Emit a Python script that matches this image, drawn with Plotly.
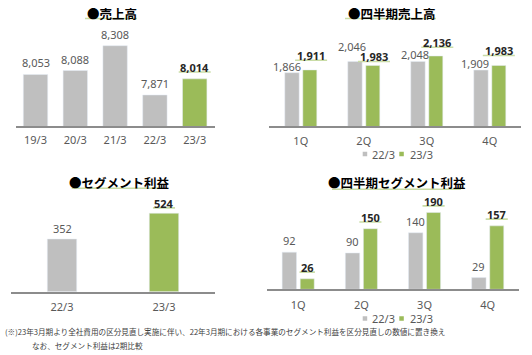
import plotly.graph_objects as go

W, H = 532, 355

# ---------------- data ----------------
years = ["19/3", "20/3", "21/3", "22/3", "23/3"]
sales = [8053, 8088, 8308, 7871, 8014]

quarters = ["1Q", "2Q", "3Q", "4Q"]
series = ["22/3", "23/3"]
q_sales_22 = [1866, 2046, 2048, 1909]
q_sales_23 = [1911, 1983, 2136, 1983]

seg_years = ["22/3", "23/3"]
seg_profit = [352, 524]

q_seg_22 = [92, 90, 140, 29]
q_seg_23 = [26, 150, 190, 157]

titles = ["●売上高", "●四半期売上高", "●セグメント利益", "●四半期セグメント利益"]
note1 = "(※)23年3月期より全社費用の区分見直し実施に伴い、22年3月期における各事業のセグメント利益を区分見直しの数値に置き換え"
note2 = "なお、セグメント利益は2期比較"

# ---------------- style ----------------
GRAY = "#BFBFBF"
GREEN = "#9BBB59"
TXT = "#595959"
DARK = "#262626"
ULINE = "#C9DCA6"
AXIS = "#8C8C8C"
NUMFONT = "Noto Sans, Noto Sans CJK JP, sans-serif"
JPFONT = "Noto Sans CJK JP, Noto Sans, sans-serif"

# label placement (pixels above bar top / horizontal nudges) for the quarterly sales panel
LBL_DY_QS22 = [6, 15, 6.7, 6.7]
LBL_DY_QS23 = [14.3, 8.6, 13.3, 14.6]
LBL_DX_QS22 = [-5, -3, -3, -6.3]
LBL_DX_QS23 = [1.3, 1.2, 1.5, 0]


def px(x):
    return x / W


def py(y):
    return 1 - y / H


# panel geometry (pixels)
P = {
    1: dict(x0=15.6, x1=214.6, base=126.0, top=28.0, k=0.1128, v0=7596),
    2: dict(x0=269.3, x1=521.3, base=126.0, top=28.0, k=0.0619, v0=1005),
    3: dict(x0=11.0, x1=215.0, base=291.7, top=195.0, k=0.1497, v0=0),
    4: dict(x0=266.6, x1=519.3, base=289.3, top=195.0, k=0.404, v0=0),
}

fig = go.Figure()
annotations = []
shapes = []

GOFF, GW = -0.254, 0.228
NOFF, NW = 0.032, 0.222


def fmt(v):
    return f"{v:,}"


def text_w(s):
    return sum(3.2 if c == "," else 6.7 for c in s)


def add_label(ax, cat, val, dy, dx=0, bold=False):
    s = fmt(val)
    annotations.append(dict(
        x=cat, y=val, xref=f"x{ax}" if ax > 1 else "x", yref=f"y{ax}" if ax > 1 else "y",
        text=f"<b>{s}</b>" if bold else s, showarrow=False,
        xanchor="center", yanchor="middle", xshift=dx, yshift=dy,
        font=dict(size=11, color=DARK if bold else TXT, family=NUMFONT),
    ))
    if bold:
        w = text_w(s) + 2
        shapes.append(dict(
            type="line", xref=f"x{ax}" if ax > 1 else "x", yref=f"y{ax}" if ax > 1 else "y",
            xsizemode="pixel", ysizemode="pixel", xanchor=cat, yanchor=val,
            x0=dx - w / 2, x1=dx + w / 2, y0=dy - 4.6, y1=dy - 4.6,
            line=dict(color=ULINE, width=1.6),
        ))


# ---- panel 1
fig.add_trace(go.Bar(x=years, y=sales, width=0.613,
                     marker=dict(color=[GRAY] * (len(years) - 1) + [GREEN]),
                     xaxis="x", yaxis="y", showlegend=False, hoverinfo="skip"))
for i, (c, v) in enumerate(zip(years, sales)):
    add_label(1, c, v, 11.5, 0, bold=(i == len(years) - 1))

# ---- panel 2
cat2 = (P[2]["x1"] - P[2]["x0"]) / len(quarters)
fig.add_trace(go.Bar(x=quarters, y=q_sales_22, offset=GOFF, width=GW, marker_color=GRAY,
                     xaxis="x2", yaxis="y2", showlegend=False, hoverinfo="skip"))
fig.add_trace(go.Bar(x=quarters, y=q_sales_23, offset=NOFF, width=NW, marker_color=GREEN,
                     xaxis="x2", yaxis="y2", showlegend=False, hoverinfo="skip"))
gc = (GOFF + GW / 2) * cat2
nc = (NOFF + NW / 2) * cat2
for i, c in enumerate(quarters):
    add_label(2, c, q_sales_22[i], LBL_DY_QS22[i], gc + LBL_DX_QS22[i])
    add_label(2, c, q_sales_23[i], LBL_DY_QS23[i], nc + LBL_DX_QS23[i], bold=True)

# ---- panel 3
fig.add_trace(go.Bar(x=seg_years, y=seg_profit, width=0.288,
                     marker=dict(color=[GRAY, GREEN]),
                     xaxis="x3", yaxis="y3", showlegend=False, hoverinfo="skip"))
for i, (c, v) in enumerate(zip(seg_years, seg_profit)):
    add_label(3, c, v, 11 if i == 0 else 10, 0, bold=(i == 1))

# ---- panel 4
cat4 = (P[4]["x1"] - P[4]["x0"]) / len(quarters)
fig.add_trace(go.Bar(x=quarters, y=q_seg_22, offset=GOFF, width=GW, marker_color=GRAY,
                     xaxis="x4", yaxis="y4", showlegend=False, hoverinfo="skip"))
fig.add_trace(go.Bar(x=quarters, y=q_seg_23, offset=NOFF, width=NW, marker_color=GREEN,
                     xaxis="x4", yaxis="y4", showlegend=False, hoverinfo="skip"))
gc4 = (GOFF + GW / 2) * cat4
nc4 = (NOFF + NW / 2) * cat4
for i, c in enumerate(quarters):
    add_label(4, c, q_seg_22[i], 11.3, gc4)
    add_label(4, c, q_seg_23[i], 11.3, nc4, bold=True)

# ---- axes
layout_axes = {}
for n, g in P.items():
    sx = "xaxis" if n == 1 else f"xaxis{n}"
    sy = "yaxis" if n == 1 else f"yaxis{n}"
    hpx = g["base"] - g["top"]
    layout_axes[sx] = dict(
        domain=[px(g["x0"]), px(g["x1"])], anchor="y" if n == 1 else f"y{n}",
        type="category", showline=True, linecolor=AXIS, linewidth=2,
        ticks="", showgrid=False, zeroline=False, fixedrange=True,
        tickfont=dict(size=11, color=TXT, family=NUMFONT),
        ticklabelstandoff=3 if n == 1 else 4,
    )
    layout_axes[sy] = dict(
        domain=[py(g["base"]), py(g["top"])], anchor="x" if n == 1 else f"x{n}",
        range=[g["v0"], g["v0"] + hpx / g["k"]], visible=False, fixedrange=True,
    )

# ---- titles with underline
title_pos = [(112, 13.3, 85, 137, 18.5), (391.8, 13.3, 345, 436, 18.5),
             (119.2, 182.3, 71.7, 163.3, 188.3), (396.8, 182.7, 332, 461, 189.3)]
for t, (cx, cy, u0, u1, uy) in zip(titles, title_pos):
    annotations.append(dict(x=px(cx), y=py(cy), xref="paper", yref="paper", text=f"<b>{t}</b>",
                            showarrow=False, xanchor="center", yanchor="middle",
                            font=dict(size=12.5, color="#000000", family=JPFONT)))
    shapes.append(dict(type="line", xref="paper", yref="paper", x0=px(u0), x1=px(u1),
                       y0=py(uy), y1=py(uy), line=dict(color=ULINE, width=1.6)))

# ---- legends
for ly in (154, 318.5):
    for (sx0, tx), name, col in zip([(362.7, 369.5), (399.3, 407.5)], series, [GRAY, GREEN]):
        shapes.append(dict(type="rect", xref="paper", yref="paper", x0=px(sx0), x1=px(sx0 + 4.5),
                           y0=py(ly + 2.25), y1=py(ly - 2.25), fillcolor=col, line=dict(width=0)))
        annotations.append(dict(x=px(tx), y=py(ly), xref="paper", yref="paper", text=name,
                                showarrow=False, xanchor="left", yanchor="middle",
                                font=dict(size=11, color=TXT, family=NUMFONT)))

# ---- footnote
annotations.append(dict(x=px(2.7), y=py(331.3), xref="paper", yref="paper", text=note1,
                        showarrow=False, xanchor="left", yanchor="middle",
                        font=dict(size=7.6, color="#404040", family=JPFONT)))
annotations.append(dict(x=px(30), y=py(345.6), xref="paper", yref="paper", text=note2,
                        showarrow=False, xanchor="left", yanchor="middle",
                        font=dict(size=7.6, color="#404040", family=JPFONT)))

fig.update_layout(
    width=W, height=H, margin=dict(l=0, r=0, t=0, b=0),
    paper_bgcolor="white", plot_bgcolor="white",
    barmode="group", showlegend=False,
    font=dict(family=NUMFONT, color=TXT),
    annotations=annotations, shapes=shapes,
    **layout_axes,
)

fig.write_html("out.html", config={"displayModeBar": False},
               post_script="document.body.style.margin='0';document.body.style.padding='0';")
